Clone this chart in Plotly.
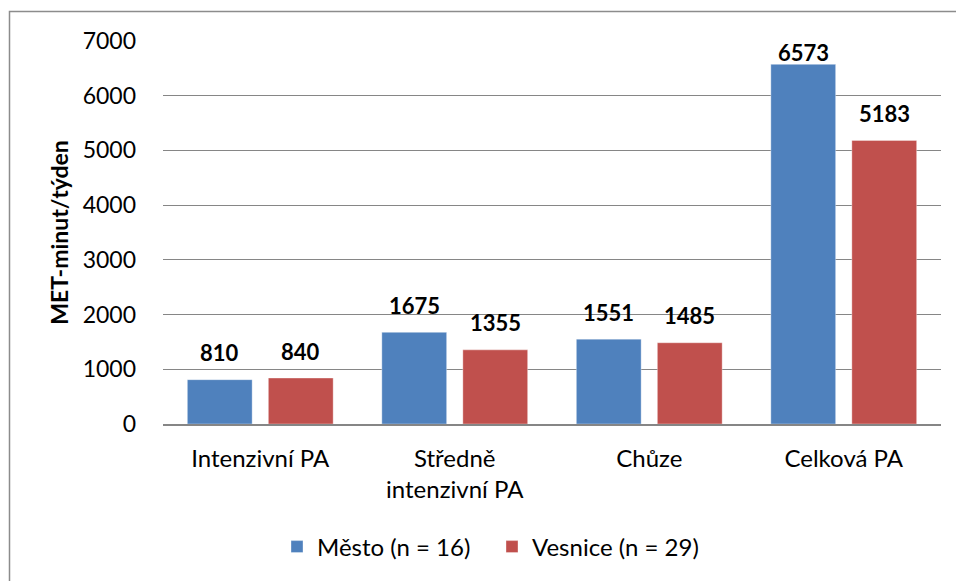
import plotly.graph_objects as go

categories = ["Intenzivní PA", "Středně<br>intenzivní PA", "Chůze", "Celková PA"]
mesto = [810, 1675, 1551, 6573]
vesnice = [840, 1355, 1485, 5183]
series_names = ["Město (n = 16)", "Vesnice (n = 29)"]
y_ticks = [0, 1000, 2000, 3000, 4000, 5000, 6000, 7000]

W, H = 956, 581
ML, MR, MT, MB = 163, 15, 41, 157
FONT = "Lato"
BLUE, RED = "#4F81BD", "#C0504D"
GRID = "#868686"

y_max = 7000
plot_h = H - MT - MB
plot_w = W - ML - MR
px_per_unit = plot_h / y_max
bargap = 0.167
bargroupgap = 0.2
cat_w = plot_w / len(categories)
slot = cat_w * (1 - bargap) / 2
offset_px = slot / 2

fig = go.Figure()
for name, vals, col in [(series_names[0], mesto, BLUE), (series_names[1], vesnice, RED)]:
    fig.add_trace(go.Bar(
        x=categories, y=vals, name=name,
        marker=dict(color=col, line=dict(color="rgba(255,255,255,0.35)", width=1)),
        hoverinfo="x+y+name",
    ))

annotations = []
for vals, sign in [(mesto, -1), (vesnice, 1)]:
    for c, v in zip(categories, vals):
        room = (y_max - v) * px_per_unit - 12
        shift = min(27, room)
        annotations.append(dict(
            x=c, y=v, xref="x", yref="y", text=f"<b>{v}</b>",
            showarrow=False, xshift=sign * offset_px, yshift=shift,
            yanchor="middle", xanchor="center",
            font=dict(family=FONT, size=22, color="#000"),
        ))

# outer chart border (top-left visible, rest cropped)
bx0 = (9.5 - ML) / plot_w
by1 = 1 + (MT - 11.5) / plot_h
fig.add_shape(type="rect", xref="paper", yref="paper",
              x0=bx0, x1=1 + (MR + 20) / plot_w, y0=-(MB + 20) / plot_h, y1=by1,
              line=dict(color="#8C8C8C", width=1.5), fillcolor="rgba(0,0,0,0)", layer="below")

legend_center_px = 492
fig.update_layout(
    width=W, height=H,
    margin=dict(l=ML, r=MR, t=MT, b=MB, autoexpand=False),
    paper_bgcolor="white", plot_bgcolor="white",
    barmode="group", bargap=bargap, bargroupgap=bargroupgap,
    font=dict(family=FONT, size=24, color="#000"),
    annotations=annotations,
    showlegend=True,
    legend=dict(orientation="h", x=(legend_center_px - ML) / plot_w, xanchor="center",
                y=-(547 - (H - MB)) / plot_h, yanchor="middle",
                font=dict(family=FONT, size=24, color="#000"), itemwidth=30,
                entrywidth=170, traceorder="normal"),
    xaxis=dict(showline=True, linecolor=GRID, linewidth=1.5, showgrid=False, automargin=False,
               ticks="", ticklabelstandoff=12, tickfont=dict(family=FONT, size=24, color="#000")),
    yaxis=dict(range=[0, y_max], tickvals=y_ticks, showgrid=True, gridcolor=GRID, gridwidth=1,
               zeroline=False, showline=False, ticks="", ticklabelstandoff=26, automargin=False,
               tickfont=dict(family=FONT, size=23, color="#000"),
               title=dict(text="<b>MET-minut/týden</b>", standoff=7,
                          font=dict(family=FONT, size=23, color="#000"))),
)

fig.write_html("out.html", config={"displayModeBar": False},
               post_script="document.body.style.margin='0';document.body.style.padding='0';")
